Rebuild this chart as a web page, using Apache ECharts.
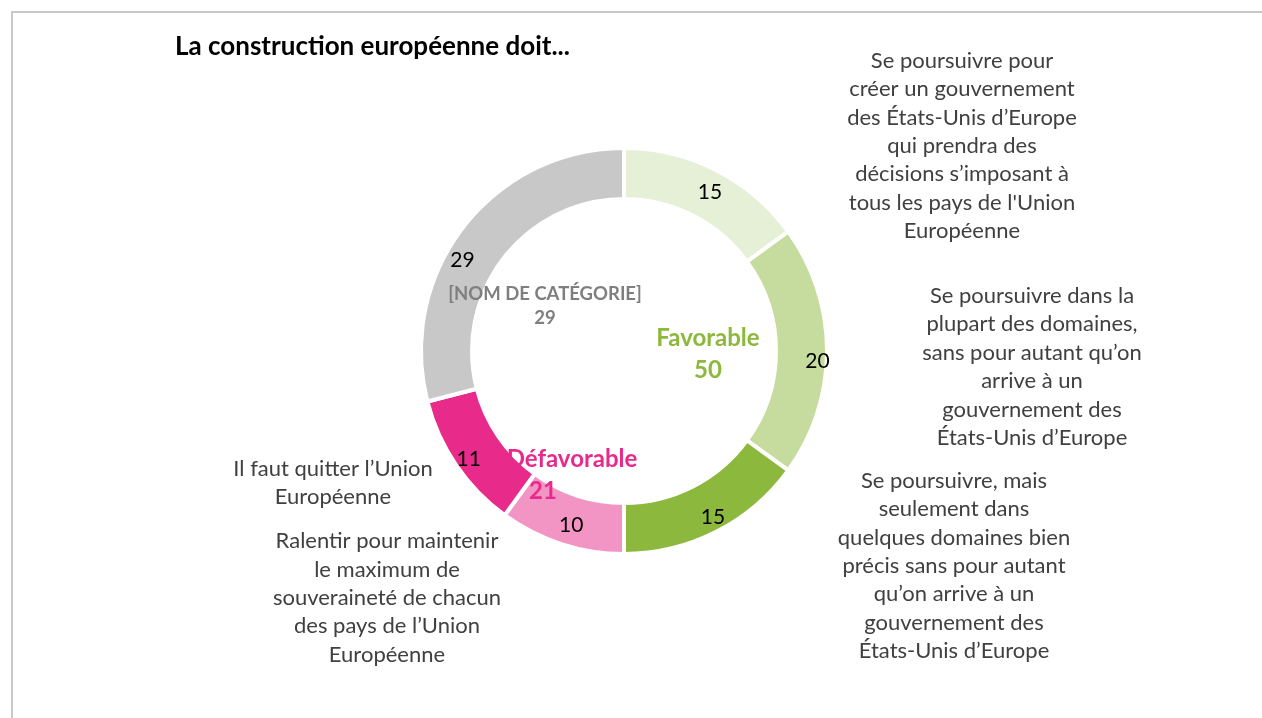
<!DOCTYPE html>
<html>
<head>
<meta charset="utf-8">
<script src="https://cdn.jsdelivr.net/npm/echarts@6/dist/echarts.min.js"></script>
<style>
  html, body { margin: 0; padding: 0; background: #fff; }
  #chart { position: absolute; left: 0; top: 0; width: 1262px; height: 718px; }
  #frame { position: absolute; left: 11px; top: 11px; right: 0; bottom: 0;
           border-top: 2px solid #c9c9c9; border-left: 2px solid #c9c9c9; pointer-events: none; }
</style>
</head>
<body>
<div id="chart"></div>
<div id="frame"></div>
<script>
// Answers, clockwise from the top of the ring
const categories = [
  "Se poursuivre pour\ncréer un gouvernement\ndes États-Unis d’Europe\nqui prendra des\ndécisions s’imposant à\ntous les pays de l'Union\nEuropéenne",
  "Se poursuivre dans la\nplupart des domaines,\nsans pour autant qu’on\narrive à un\ngouvernement des\nÉtats-Unis d’Europe",
  "Se poursuivre, mais\nseulement dans\nquelques domaines bien\nprécis sans pour autant\nqu’on arrive à un\ngouvernement des\nÉtats-Unis d’Europe",
  "Ralentir pour maintenir\nle maximum de\nsouveraineté de chacun\ndes pays de l’Union\nEuropéenne",
  "Il faut quitter l’Union\nEuropéenne",
  ""
];
const values = [15, 20, 15, 10, 11, 29];

// Groups summarised in the middle of the ring
const groupNames = ["Favorable", "Défavorable", "[NOM DE CATÉGORIE]"];
const groupValues = [50, 21, 29];

const sliceColors = ["#e5f0d7", "#c5dc9e", "#8cb93d", "#f294c4", "#e82b8b", "#c8c8c8"];
const groupColors = ["#8cb93d", "#e82b8b", "#7f7f7f"];

const FONT = "Lato, 'Open Sans', sans-serif";
const CX = 624, CY = 351;

// Nudges for the value labels inside the ring
const valueOffsets = [[4, 2], [13, 10], [7, 5], [3, 3], [-6, 7], [-19, 20]];
// Centres of the answer text blocks
const textCentres = [[962, 146], [1032, 367], [954, 566], [387, 598], [333, 483], [0, 0]];
// Centres of the group labels
const groupCentres = [[708, 354], [572, 475], [545, 306]];

const chart = echarts.init(document.getElementById("chart"));

chart.setOption({
  animation: false,
  title: {
    text: "La construction européenne doit...",
    left: 170, top: 29,
    textStyle: { fontFamily: FONT, fontWeight: "bold", fontSize: 26, color: "#000" }
  },
  series: [
    {
      // Coloured ring with the value of each answer
      type: "pie",
      center: [CX, CY],
      radius: [152, 203],
      startAngle: 90,
      clockwise: true,
      silent: true,
      itemStyle: { borderColor: "#fff", borderWidth: 4 },
      label: {
        show: true, position: "inside",
        fontFamily: FONT, fontSize: 21, color: "#000",
        formatter: p => String(p.value)
      },
      labelLine: { show: false },
      data: values.map((v, i) => ({
        value: v,
        name: "v" + i,
        itemStyle: { color: sliceColors[i] },
        label: { offset: valueOffsets[i] }
      }))
    },
    {
      // Same ring, carrying the answer texts around the outside
      type: "pie",
      center: [CX, CY],
      radius: [152, 203],
      startAngle: 90,
      silent: true,
      itemStyle: { color: "transparent", borderWidth: 0 },
      label: {
        show: true, position: "outside",
        fontFamily: FONT, fontSize: 22, color: "#404040",
        lineHeight: 28.4, align: "center",
        formatter: p => categories[p.dataIndex]
      },
      labelLine: { show: false },
      labelLayout: p => ({
        x: textCentres[p.dataIndex][0],
        y: textCentres[p.dataIndex][1],
        align: "center",
        verticalAlign: "middle"
      }),
      data: values.map((v, i) => ({ value: v, name: "t" + i }))
    },
    {
      // Hidden inner ring: group totals written in the hole
      type: "pie",
      center: [CX, CY],
      radius: [0, 140],
      startAngle: 90,
      silent: true,
      itemStyle: { color: "transparent", borderWidth: 0 },
      label: {
        show: true, position: "inside",
        fontFamily: FONT, fontWeight: "bold", align: "center",
        formatter: p => "{n|" + groupNames[p.dataIndex] + "}\n{v" + p.dataIndex + "|" + p.value + "}",
        rich: {}
      },
      labelLine: { show: false },
      labelLayout: p => ({
        x: groupCentres[p.dataIndex][0],
        y: groupCentres[p.dataIndex][1],
        align: "center",
        verticalAlign: "middle"
      }),
      data: groupValues.map((v, i) => {
        const big = i < 2;
        const rich = {
          n: { fontFamily: FONT, fontWeight: "bold", color: groupColors[i],
               fontSize: big ? 24 : 18.5, lineHeight: big ? 32 : 24, align: "center" }
        };
        rich["v" + i] = { fontFamily: FONT, fontWeight: "bold", color: groupColors[i],
                          fontSize: big ? 24 : 18.5, lineHeight: big ? 32 : 24, align: "center",
                          padding: i === 1 ? [0, 58, 0, 0] : 0 };
        return { value: v, name: groupNames[i], label: { rich } };
      })
    }
  ]
});
</script>
</body>
</html>
